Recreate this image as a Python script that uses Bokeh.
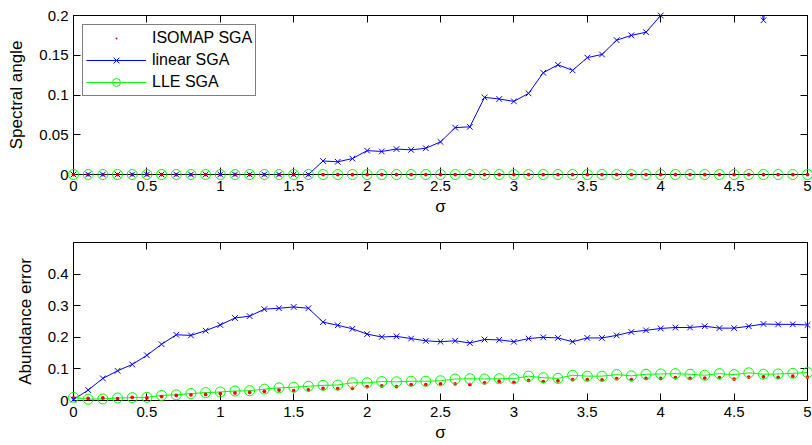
from bokeh.plotting import figure
from bokeh.models import (Range1d, FixedTicker, LinearAxis, ColumnDataSource,
                          CDSView, BooleanFilter, CustomJSTickFormatter)
from bokeh.layouts import column
from bokeh.embed import file_html
from bokeh.resources import INLINE

FONT = "Liberation Sans"

sigma = [0.0, 0.1, 0.2, 0.3, 0.4, 0.5, 0.6, 0.7, 0.8, 0.9,
         1.0, 1.1, 1.2, 1.3, 1.4, 1.5, 1.6, 1.7, 1.8, 1.9,
         2.0, 2.1, 2.2, 2.3, 2.4, 2.5, 2.6, 2.7, 2.8, 2.9,
         3.0, 3.1, 3.2, 3.3, 3.4, 3.5, 3.6, 3.7, 3.8, 3.9,
         4.0, 4.1, 4.2, 4.3, 4.4, 4.5, 4.6, 4.7, 4.8, 4.9, 5.0]

# Top panel: spectral angle
sa_isomap = [0.0] * 51
sa_lle = [0.0] * 51
sa_linear = [0, 0, 0, 0, 0, 0, 0, 0, 0, 0,
             0, 0, 0, 0, 0, 0, 0, 0.017, 0.016, 0.020,
             0.030, 0.029, 0.032, 0.031, 0.033, 0.041, 0.059, 0.060, 0.097, 0.095,
             0.092, 0.102, 0.128, 0.138, 0.131, 0.147, 0.151, 0.169, 0.175, 0.179,
             0.200, 0.22, 0.24, 0.25, 0.27, 0.28, 0.30, 0.194, 0.31, 0.33, 0.34]

# Bottom panel: abundance error
ae_linear = [0.003, 0.033, 0.070, 0.094, 0.114, 0.143, 0.178, 0.208, 0.206, 0.221,
             0.239, 0.261, 0.267, 0.289, 0.292, 0.296, 0.292, 0.248, 0.238, 0.227,
             0.210, 0.201, 0.203, 0.196, 0.189, 0.186, 0.189, 0.182, 0.193, 0.192,
             0.186, 0.196, 0.200, 0.198, 0.186, 0.198, 0.198, 0.206, 0.217, 0.222,
             0.228, 0.231, 0.231, 0.235, 0.229, 0.229, 0.235, 0.242, 0.241, 0.241, 0.239]
ae_lle = [0.010, 0.004, 0.005, 0.008, 0.009, 0.010, 0.016, 0.018, 0.022, 0.025,
          0.027, 0.030, 0.031, 0.036, 0.040, 0.042, 0.045, 0.048, 0.049, 0.056,
          0.056, 0.060, 0.059, 0.061, 0.061, 0.0625, 0.068, 0.069, 0.068, 0.069,
          0.069, 0.077, 0.072, 0.070, 0.080, 0.077, 0.077, 0.082, 0.078, 0.083,
          0.084, 0.085, 0.083, 0.080, 0.085, 0.082, 0.0875, 0.083, 0.084, 0.086, 0.0885]
ae_isomap = [0.008, 0.007, 0.008, 0.006, 0.010, 0.008, 0.0125, 0.016, 0.018, 0.019,
             0.022, 0.024, 0.026, 0.029, 0.033, 0.031, 0.034, 0.0385, 0.0375, 0.0385,
             0.044, 0.046, 0.044, 0.050, 0.050, 0.053, 0.053, 0.051, 0.056, 0.061,
             0.057, 0.0635, 0.060, 0.0625, 0.066, 0.066, 0.065, 0.069, 0.066, 0.070,
             0.070, 0.072, 0.070, 0.071, 0.072, 0.068, 0.074, 0.075, 0.073, 0.077, 0.074]

x_ticks = [0, 0.5, 1, 1.5, 2, 2.5, 3, 3.5, 4, 4.5, 5]
top_y_ticks = [0, 0.05, 0.1, 0.15, 0.2]
bot_y_ticks = [0, 0.1, 0.2, 0.3, 0.4]

RED, BLUE, GREEN = "#ff0000", "#0000ff", "#00ff00"
TICK_FS = "15px"
LABEL_FS = "17px"
LEGEND_FS = "16px"


def style_axis(ax, ticks, show_labels):
    ax.ticker = FixedTicker(ticks=ticks)
    ax.major_tick_in = 7
    ax.major_tick_out = 0
    ax.minor_tick_line_color = None
    ax.axis_line_color = "black"
    ax.major_tick_line_color = "black"
    ax.major_label_text_font = FONT
    ax.major_label_text_color = "black"
    ax.axis_label_text_font = FONT
    ax.axis_label_text_font_style = "normal"
    ax.axis_label_text_font_size = LABEL_FS
    ax.axis_label_text_color = "black"
    if show_labels:
        ax.formatter = CustomJSTickFormatter(code="return tick.toString();")
        ax.major_label_text_font_size = TICK_FS
    else:
        ax.formatter = CustomJSTickFormatter(code="return '';")
        ax.major_label_text_font_size = "0px"
        ax.major_label_standoff = 0


def make_fig(height, ymax, yticks, ylabel, top_b, bot_b):
    p = figure(width=812, height=height, output_backend="svg", toolbar_location=None,
               x_range=Range1d(0, 5), y_range=Range1d(0, ymax),
               min_border_left=73, min_border_right=5,
               min_border_top=top_b, min_border_bottom=bot_b)
    p.grid.visible = False
    p.outline_line_color = "black"
    p.background_fill_color = "white"
    p.border_fill_color = "white"
    style_axis(p.xaxis[0], x_ticks, True)
    style_axis(p.yaxis[0], yticks, True)
    p.xaxis[0].axis_label = "σ"
    p.xaxis[0].major_label_standoff = 6
    p.xaxis[0].axis_label_standoff = 3
    p.yaxis[0].axis_label = ylabel
    p.yaxis[0].major_label_standoff = 5
    p.yaxis[0].axis_label_standoff = 10
    ax_top = LinearAxis()
    style_axis(ax_top, x_ticks, False)
    ax_right = LinearAxis()
    style_axis(ax_right, yticks, False)
    p.add_layout(ax_top, "above")
    p.add_layout(ax_right, "right")
    return p


# ---- top panel
p1 = make_fig(218, 0.2, top_y_ticks, "Spectral angle", 15, 43)
src_top = ColumnDataSource(dict(x=sigma, iso=sa_isomap, lin=sa_linear, lle=sa_lle))
in_range = [v <= 0.2 for v in sa_linear]
p1.scatter("x", "iso", source=src_top, marker="dot", size=15, color=RED,
           legend_label="ISOMAP SGA", level="overlay")
p1.line("x", "lin", source=src_top, color=BLUE, line_width=1, legend_label="linear SGA")
p1.scatter("x", "lin", source=src_top, view=CDSView(filter=BooleanFilter(in_range)),
           marker="x", size=8, line_color=BLUE, line_width=1,
           legend_label="linear SGA", level="overlay")
p1.line("x", "lle", source=src_top, color=GREEN, line_width=1, legend_label="LLE SGA")
p1.scatter("x", "lle", source=src_top, marker="circle", size=10, line_color=GREEN,
           fill_color=None, line_width=1, legend_label="LLE SGA", level="overlay")

lg = p1.legend[0]
lg.location = "top_left"
lg.margin = 9
lg.border_line_color = "black"
lg.border_line_width = 1
lg.background_fill_color = "white"
lg.background_fill_alpha = 1
lg.label_text_font = FONT
lg.label_text_font_size = LEGEND_FS
lg.label_text_color = "black"
lg.glyph_width = 60
lg.glyph_height = 20
lg.label_height = 20
lg.spacing = 2
lg.padding = 3
lg.label_standoff = 6

# ---- bottom panel
p2 = make_fig(226, 0.5, bot_y_ticks, "Abundance error", 24, 42)
src_bot = ColumnDataSource(dict(x=sigma, iso=ae_isomap, lin=ae_linear, lle=ae_lle))
p2.scatter("x", "iso", source=src_bot, marker="dot", size=15, color=RED, level="overlay")
p2.line("x", "lin", source=src_bot, color=BLUE, line_width=1)
p2.scatter("x", "lin", source=src_bot, marker="x", size=8, line_color=BLUE,
           line_width=1, level="overlay")
p2.line("x", "lle", source=src_bot, color=GREEN, line_width=1)
p2.scatter("x", "lle", source=src_bot, marker="circle", size=10, line_color=GREEN,
           fill_color=None, line_width=1, level="overlay")

layout = column(p1, p2, spacing=0)
open("out.html", "w").write(file_html(layout, INLINE))
